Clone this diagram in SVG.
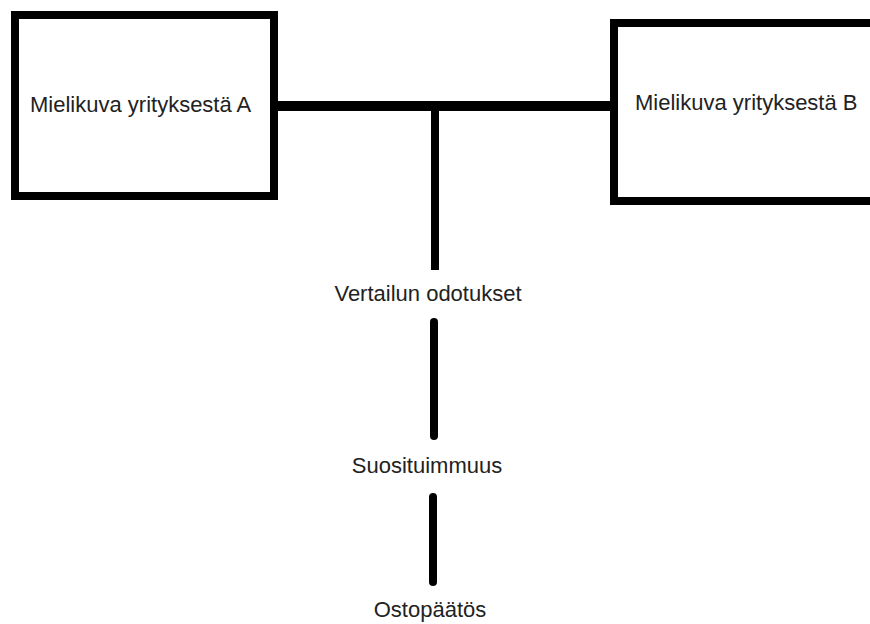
<svg xmlns="http://www.w3.org/2000/svg" width="870" height="624" viewBox="0 0 870 624">
<style>
.box{fill:#fff;stroke:#000;stroke-width:8}
.conn{stroke:#000;fill:none;stroke-linecap:round}
.lbl{font-family:"Liberation Sans",Arial,sans-serif;font-size:22px;fill:#222}
</style>
<rect width="870" height="624" fill="#fff"/>
<g id="connectors">
<line class="conn" x1="274" y1="106" x2="616" y2="106" style="stroke-width:10;stroke-linecap:butt"/>
<circle cx="617" cy="106" r="5" fill="#000"/>
<line class="conn" x1="435" y1="106" x2="435" y2="270" style="stroke-width:8;stroke-linecap:butt"/>
<line class="conn" x1="434" y1="322" x2="434" y2="436" style="stroke-width:8"/>
<line class="conn" x1="433" y1="497" x2="433" y2="582" style="stroke-width:8"/>
</g>
<g id="nodeA">
<rect class="box" x="15" y="15" width="259" height="181"/>
<text class="lbl" x="30" y="112">Mielikuva yrityksestä A</text>
</g>
<g id="nodeB">
<rect class="box" x="614" y="23" width="280" height="178"/>
<text class="lbl" x="635" y="110">Mielikuva yrityksestä B</text>
</g>
<g id="nodeVertailu">
<text class="lbl" x="428" y="301" text-anchor="middle">Vertailun odotukset</text>
</g>
<g id="nodeSuosituimmuus">
<text class="lbl" x="427" y="473" text-anchor="middle">Suosituimmuus</text>
</g>
<g id="nodeOstopaatos">
<text class="lbl" x="430" y="617" text-anchor="middle">Ostopäätös</text>
</g>
</svg>
